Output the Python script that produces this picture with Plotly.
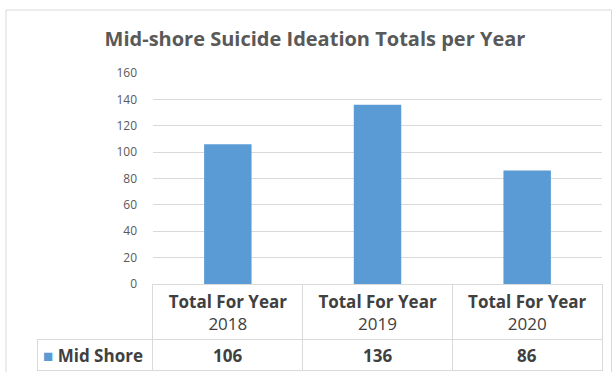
import plotly.graph_objects as go

# Data
years = ["2018", "2019", "2020"]
categories = ["Total For Year " + y for y in years]
header_labels = [f"<b>Total For Year</b><br>{y}" for y in years]
series_name = "Mid Shore"
totals = [106, 136, 86]
y_ticks = [0, 20, 40, 60, 80, 100, 120, 140, 160]

W, H = 615, 372
BAR_COLOR = "#5b9bd5"
GRID = "#d9d9d9"
TEXT = "#595959"
TABLE_TEXT = "#404040"
FONT = "Open Sans"
TABLE_FONT = 17


def px_x(p):
    return p / W


def px_y(p):
    return 1 - p / H


fig = go.Figure()

fig.add_trace(go.Bar(
    x=categories,
    y=totals,
    name=series_name,
    marker=dict(color=BAR_COLOR, line=dict(width=0)),
    showlegend=False,
    hoverinfo="x+y",
))

# Grid of the data table below the axis: blank corner cell, one header row
# (filled by the category labels) and one row for the series values
n_cols = len(categories) + 1
fig.add_trace(go.Table(
    domain=dict(x=[px_x(37), px_x(602.5)], y=[0, px_y(284.5)]),
    columnwidth=[116] + [150] * len(categories),
    header=dict(
        values=[""] * n_cols,
        height=55,
        fill=dict(color="rgba(0,0,0,0)"),
        line=dict(color=["rgba(0,0,0,0)"] + [GRID] * len(categories), width=1),
    ),
    cells=dict(
        values=[[""] for _ in range(n_cols)],
        height=31,
        fill=dict(color="white"),
        line=dict(color=GRID, width=1),
    ),
    hoverinfo="skip",
))

annotations = [
    dict(
        text=f"<span style='color:{BAR_COLOR}'>■</span> <b>{series_name}</b>",
        xref="paper", yref="paper", x=px_x(41), y=px_y(355),
        xanchor="left", yanchor="middle", showarrow=False,
        font=dict(family=FONT, size=TABLE_FONT, color=TABLE_TEXT),
    )
]
for cat, val in zip(categories, totals):
    annotations.append(dict(
        text=f"<b>{val}</b>",
        xref="x", yref="paper", x=cat, y=px_y(355),
        xanchor="center", yanchor="middle", showarrow=False,
        font=dict(family=FONT, size=TABLE_FONT, color=TABLE_TEXT),
    ))

fig.update_layout(
    width=W,
    height=H,
    margin=dict(l=0, r=0, t=0, b=0, pad=0, autoexpand=False),
    paper_bgcolor="white",
    plot_bgcolor="white",
    bargap=0.683,
    font=dict(family=FONT, color=TEXT),
    xaxis=dict(
        domain=[px_x(153), px_x(602)],
        tickvals=categories,
        ticktext=header_labels,
        tickfont=dict(family=FONT, size=TABLE_FONT, color=TABLE_TEXT),
        ticklabelstandoff=6,
        showgrid=False,
        zeroline=False,
        showline=False,
        ticks="",
    ),
    yaxis=dict(
        domain=[px_y(284), px_y(73)],
        range=[0, 160],
        tickvals=y_ticks,
        showgrid=True,
        gridcolor=GRID,
        gridwidth=1,
        zeroline=False,
        showline=False,
        ticks="",
        ticklabelstandoff=15,
        tickfont=dict(family=FONT, size=12, color=TEXT),
    ),
    title=dict(
        text="<b>Mid-shore Suicide Ideation Totals per Year</b>",
        x=px_x(315),
        xanchor="center",
        y=px_y(39),
        yanchor="middle",
        font=dict(family=FONT, size=20, color=TEXT),
    ),
    annotations=annotations,
    shapes=[
        dict(
            type="rect", xref="paper", yref="paper",
            x0=px_x(6), x1=px_x(611.5), y0=-0.05, y1=px_y(10),
            line=dict(color=GRID, width=1), fillcolor="rgba(0,0,0,0)",
            layer="below",
        )
    ],
)

fig.write_html("out.html")
